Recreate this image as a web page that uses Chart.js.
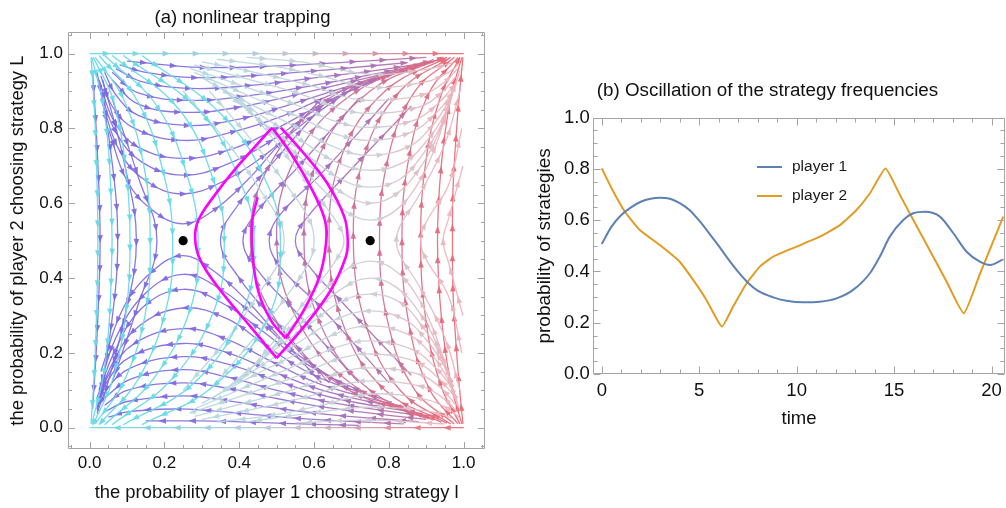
<!DOCTYPE html>
<html>
<head>
<meta charset="utf-8">
<script src="https://cdn.jsdelivr.net/npm/chart.js@4.4.1/dist/chart.umd.min.js"></script>
<style>
  html, body { margin: 0; padding: 0; background: #fff; overflow: hidden; width: 1006px; height: 508px; }
  #streams { position: absolute; left: 0; top: 0; }
  #series { position: absolute; left: 530px; top: 0; }
</style>
</head>
<body>
<canvas id="streams" width="500" height="508"></canvas>
<canvas id="series" width="484" height="508"></canvas>
<script>
const FONT = '"Liberation Sans", Arial, Helvetica, sans-serif';

// ---------- panel (a): stream plot, all points as [x, y] ----------
const unitTicks = [0, 0.2, 0.4, 0.6, 0.8, 1.0];
const saddles = [[0.25, 0.5], [0.75, 0.5]];

// cyan arcs, flowing top-left corner -> bottom-left corner
const cyanArcs = [
  [[0.004,0.99],[0.015,0.8],[0.022,0.5],[0.015,0.2],[0.004,0.01]],
  [[0.006,0.99],[0.04,0.84],[0.058,0.6],[0.058,0.4],[0.04,0.16],[0.006,0.01]],
  [[0.01,0.99],[0.065,0.87],[0.1,0.66],[0.108,0.5],[0.1,0.33],[0.062,0.13],[0.01,0.01]],
  [[0.015,0.99],[0.09,0.88],[0.145,0.7],[0.162,0.5],[0.148,0.3],[0.09,0.12],[0.015,0.01]],
  [[0.025,0.995],[0.13,0.87],[0.2,0.67],[0.222,0.5],[0.205,0.32],[0.13,0.13],[0.025,0.008]],
  [[0.04,0.995],[0.18,0.86],[0.265,0.66],[0.29,0.5],[0.27,0.32],[0.17,0.13],[0.04,0.008]],
  [[0.06,0.995],[0.24,0.85],[0.335,0.65],[0.36,0.5],[0.335,0.32],[0.22,0.13],[0.06,0.008]],
  [[0.09,0.995],[0.3,0.84],[0.41,0.64],[0.44,0.5],[0.41,0.31],[0.28,0.12],[0.09,0.008]],
  [[0.14,0.995],[0.36,0.83],[0.48,0.64],[0.51,0.5],[0.48,0.3],[0.33,0.11],[0.14,0.008]]
];

// purple family around the saddle at (0.25, 0.5)
const purpleUpper = [
  [[0.05,0.8],[0.1,0.66],[0.17,0.58],[0.25,0.545],[0.33,0.58],[0.42,0.66],[0.5,0.75],[0.62,0.88]],
  [[0.03,0.88],[0.08,0.74],[0.15,0.66],[0.25,0.625],[0.36,0.66],[0.47,0.73],[0.58,0.82],[0.72,0.92]],
  [[0.025,0.91],[0.07,0.79],[0.14,0.71],[0.25,0.675],[0.37,0.705],[0.49,0.77],[0.62,0.86],[0.78,0.94]],
  [[0.025,0.93],[0.065,0.82],[0.13,0.75],[0.25,0.72],[0.38,0.745],[0.5,0.8],[0.65,0.88],[0.82,0.95]],
  [[0.03,0.94],[0.06,0.86],[0.12,0.8],[0.25,0.768],[0.38,0.79],[0.52,0.835],[0.67,0.9],[0.86,0.96]],
  [[0.04,0.95],[0.07,0.89],[0.13,0.835],[0.26,0.808],[0.4,0.825],[0.54,0.865],[0.7,0.915],[0.88,0.965]],
  [[0.06,0.93],[0.13,0.865],[0.26,0.843],[0.4,0.857],[0.55,0.89],[0.72,0.93],[0.9,0.972]],
  [[0.06,0.95],[0.13,0.895],[0.27,0.875],[0.42,0.887],[0.58,0.912],[0.76,0.945],[0.92,0.978]],
  [[0.07,0.96],[0.14,0.925],[0.27,0.907],[0.43,0.915],[0.6,0.935],[0.8,0.96],[0.94,0.984]],
  [[0.08,0.97],[0.15,0.95],[0.28,0.936],[0.45,0.942],[0.65,0.958],[0.85,0.976]],
  [[0.1,0.98],[0.3,0.963],[0.5,0.967],[0.7,0.978],[0.9,0.99]]
];
const purpleRight = [
  [[0.64,0.12],[0.5,0.28],[0.4,0.4],[0.35,0.5],[0.4,0.6],[0.5,0.72],[0.64,0.88]],
  [[0.72,0.12],[0.56,0.3],[0.45,0.42],[0.41,0.5],[0.45,0.58],[0.56,0.7],[0.72,0.88]],
  [[0.8,0.12],[0.62,0.32],[0.51,0.43],[0.48,0.5],[0.51,0.57],[0.62,0.68],[0.8,0.88]],
  [[0.86,0.14],[0.68,0.33],[0.58,0.44],[0.55,0.5],[0.58,0.56],[0.68,0.67],[0.86,0.86]]
];
const purpleLower = [
  [[0.62,0.12],[0.5,0.25],[0.42,0.34],[0.33,0.42],[0.25,0.46],[0.17,0.42],[0.09,0.32],[0.03,0.15]],
  [[0.7,0.1],[0.55,0.2],[0.45,0.29],[0.35,0.37],[0.25,0.41],[0.15,0.36],[0.07,0.24],[0.025,0.1]],
  [[0.75,0.085],[0.58,0.17],[0.46,0.26],[0.36,0.33],[0.25,0.37],[0.14,0.32],[0.065,0.2],[0.02,0.08]],
  [[0.8,0.07],[0.6,0.14],[0.47,0.22],[0.37,0.29],[0.25,0.32],[0.13,0.27],[0.06,0.17],[0.02,0.065]],
  [[0.84,0.055],[0.62,0.115],[0.48,0.18],[0.37,0.235],[0.25,0.265],[0.12,0.225],[0.05,0.14],[0.02,0.05]],
  [[0.87,0.045],[0.64,0.095],[0.49,0.15],[0.37,0.2],[0.25,0.225],[0.11,0.19],[0.045,0.12],[0.02,0.045]],
  [[0.89,0.037],[0.65,0.08],[0.5,0.125],[0.37,0.17],[0.25,0.19],[0.11,0.16],[0.045,0.1],[0.02,0.038]],
  [[0.9,0.03],[0.66,0.065],[0.5,0.1],[0.37,0.135],[0.25,0.155],[0.11,0.13],[0.04,0.08]],
  [[0.9,0.022],[0.66,0.05],[0.5,0.078],[0.37,0.105],[0.25,0.12],[0.1,0.1],[0.04,0.06]],
  [[0.88,0.016],[0.64,0.035],[0.48,0.055],[0.35,0.075],[0.25,0.085],[0.1,0.07],[0.045,0.045]],
  [[0.84,0.01],[0.6,0.022],[0.45,0.034],[0.33,0.045],[0.22,0.05],[0.1,0.042],[0.05,0.028]],
  [[0.72,0.006],[0.5,0.012],[0.3,0.018],[0.15,0.018]]
];
const purpleLeft = [
  [[0.008,0.95],[0.02,0.75],[0.028,0.5],[0.02,0.25],[0.008,0.05]],
  [[0.02,0.95],[0.055,0.75],[0.075,0.5],[0.055,0.25],[0.02,0.05]],
  [[0.035,0.93],[0.09,0.72],[0.125,0.5],[0.09,0.28],[0.035,0.07]],
  [[0.06,0.88],[0.13,0.67],[0.18,0.5],[0.13,0.33],[0.06,0.12]]
];

// grey family around the saddle at (0.75, 0.5)
const greyUpper = [
  [[0.45,0.83],[0.53,0.74],[0.62,0.64],[0.69,0.575],[0.75,0.555],[0.81,0.575],[0.87,0.64],[0.92,0.74],[0.96,0.86]],
  [[0.4,0.87],[0.5,0.78],[0.6,0.69],[0.68,0.625],[0.75,0.6],[0.82,0.625],[0.88,0.69],[0.93,0.78],[0.97,0.89]],
  [[0.36,0.9],[0.47,0.81],[0.58,0.73],[0.67,0.665],[0.75,0.643],[0.83,0.665],[0.89,0.73],[0.94,0.81],[0.975,0.91]],
  [[0.33,0.92],[0.45,0.84],[0.57,0.765],[0.66,0.71],[0.75,0.688],[0.84,0.71],[0.9,0.765],[0.95,0.84],[0.98,0.925]],
  [[0.3,0.935],[0.43,0.865],[0.56,0.8],[0.66,0.748],[0.75,0.728],[0.85,0.75],[0.91,0.8],[0.955,0.865],[0.985,0.94]],
  [[0.28,0.95],[0.42,0.89],[0.56,0.83],[0.66,0.785],[0.75,0.768],[0.86,0.79],[0.92,0.835],[0.965,0.89],[0.99,0.955]],
  [[0.27,0.96],[0.42,0.91],[0.56,0.86],[0.66,0.818],[0.75,0.803],[0.87,0.823],[0.93,0.865],[0.975,0.915]],
  [[0.28,0.97],[0.43,0.93],[0.57,0.89],[0.67,0.853],[0.75,0.84],[0.88,0.857],[0.94,0.895],[0.98,0.94]],
  [[0.3,0.978],[0.45,0.948],[0.59,0.915],[0.68,0.885],[0.75,0.875],[0.89,0.89],[0.95,0.925],[0.985,0.96]],
  [[0.34,0.985],[0.5,0.965],[0.62,0.94],[0.75,0.91],[0.9,0.925],[0.96,0.95],[0.99,0.975]],
  [[0.42,0.99],[0.57,0.977],[0.75,0.945],[0.9,0.958],[0.97,0.975]]
];
const greyLeft = [
  [[0.4,0.88],[0.5,0.76],[0.6,0.63],[0.66,0.55],[0.68,0.5],[0.66,0.45],[0.6,0.37],[0.5,0.24],[0.4,0.12]],
  [[0.32,0.9],[0.44,0.76],[0.54,0.63],[0.59,0.55],[0.6,0.5],[0.59,0.45],[0.54,0.37],[0.44,0.24],[0.32,0.1]],
  [[0.25,0.9],[0.37,0.76],[0.46,0.63],[0.51,0.55],[0.52,0.5],[0.51,0.45],[0.46,0.37],[0.37,0.24],[0.25,0.1]]
];
const greyLower = [
  [[0.96,0.14],[0.92,0.26],[0.87,0.36],[0.81,0.425],[0.75,0.445],[0.69,0.425],[0.62,0.36],[0.53,0.26],[0.45,0.17]],
  [[0.97,0.11],[0.93,0.22],[0.88,0.31],[0.82,0.375],[0.75,0.4],[0.68,0.375],[0.6,0.31],[0.5,0.22],[0.4,0.13]],
  [[0.975,0.09],[0.94,0.19],[0.89,0.27],[0.83,0.335],[0.75,0.357],[0.67,0.335],[0.58,0.27],[0.47,0.19],[0.36,0.1]],
  [[0.98,0.075],[0.95,0.16],[0.9,0.235],[0.84,0.29],[0.75,0.312],[0.66,0.29],[0.57,0.235],[0.45,0.16],[0.33,0.08]],
  [[0.985,0.06],[0.955,0.135],[0.91,0.2],[0.85,0.25],[0.75,0.272],[0.66,0.252],[0.56,0.2],[0.43,0.135],[0.3,0.065]],
  [[0.99,0.045],[0.965,0.11],[0.92,0.165],[0.86,0.21],[0.75,0.232],[0.66,0.215],[0.56,0.17],[0.42,0.11],[0.28,0.05]],
  [[0.975,0.085],[0.93,0.135],[0.87,0.177],[0.75,0.197],[0.66,0.182],[0.56,0.14],[0.42,0.09],[0.27,0.04]],
  [[0.98,0.06],[0.94,0.105],[0.88,0.143],[0.75,0.16],[0.67,0.147],[0.57,0.11],[0.43,0.07],[0.28,0.03]],
  [[0.985,0.04],[0.95,0.075],[0.89,0.11],[0.75,0.125],[0.68,0.115],[0.59,0.085],[0.45,0.052],[0.3,0.022]],
  [[0.99,0.025],[0.96,0.05],[0.9,0.075],[0.75,0.09],[0.62,0.06],[0.5,0.035],[0.34,0.015]],
  [[0.97,0.025],[0.9,0.045],[0.75,0.055],[0.6,0.04],[0.42,0.015]],
  [[0.95,0.01],[0.75,0.02],[0.55,0.013]]
];
const greyRight = [
  [[0.99,0.1],[0.95,0.24],[0.88,0.38],[0.83,0.46],[0.82,0.5],[0.83,0.54],[0.88,0.62],[0.95,0.76],[0.99,0.9]],
  [[0.995,0.2],[0.96,0.35],[0.9,0.45],[0.885,0.5],[0.9,0.55],[0.96,0.65],[0.995,0.8]],
  [[0.998,0.3],[0.96,0.44],[0.945,0.5],[0.96,0.56],[0.998,0.7]]
];

// red / mauve arcs, flowing bottom-right corner -> top-right corner
const redArcs = [
  [[0.998,0.01],[0.985,0.15],[0.972,0.35],[0.97,0.5],[0.972,0.65],[0.985,0.85],[0.998,0.99]],
  [[0.995,0.01],[0.965,0.12],[0.94,0.3],[0.93,0.5],[0.94,0.7],[0.965,0.88],[0.995,0.99]],
  [[0.99,0.01],[0.94,0.11],[0.9,0.28],[0.885,0.5],[0.9,0.72],[0.94,0.89],[0.99,0.99]],
  [[0.985,0.01],[0.91,0.1],[0.855,0.27],[0.835,0.5],[0.855,0.73],[0.91,0.9],[0.985,0.99]],
  [[0.975,0.01],[0.87,0.1],[0.8,0.27],[0.775,0.5],[0.8,0.73],[0.87,0.9],[0.975,0.99]],
  [[0.965,0.01],[0.83,0.1],[0.74,0.27],[0.705,0.5],[0.735,0.73],[0.83,0.9],[0.965,0.99]],
  [[0.955,0.012],[0.79,0.1],[0.68,0.27],[0.64,0.5],[0.675,0.73],[0.79,0.9],[0.955,0.99]],
  [[0.94,0.015],[0.75,0.1],[0.62,0.27],[0.573,0.5],[0.615,0.73],[0.75,0.9],[0.94,0.988]],
  [[0.92,0.02],[0.71,0.11],[0.56,0.28],[0.5,0.5],[0.55,0.72],[0.7,0.89],[0.92,0.985]],
  [[0.9,0.025],[0.66,0.12],[0.49,0.3],[0.43,0.5],[0.48,0.7],[0.64,0.88],[0.9,0.98]]
];

// top edge flows right, bottom edge flows left
const edgeLines = [
  [[0.0,1.0],[0.5,1.0],[1.0,1.0]],
  [[1.0,0.0],[0.5,0.0],[0.0,0.0]]
];

// magenta trajectory, cut at its sharp corners
const trappingLegs = [
  [[0.449,0.616],[0.435,0.555],[0.435,0.475],[0.45,0.368],[0.484,0.288],[0.524,0.239]],
  [[0.524,0.239],[0.573,0.315],[0.614,0.403],[0.632,0.493],[0.629,0.555],[0.591,0.643],[0.538,0.733],[0.488,0.802]],
  [[0.488,0.802],[0.394,0.697],[0.331,0.617],[0.291,0.555],[0.282,0.506],[0.296,0.448],[0.349,0.368],[0.43,0.27],[0.5,0.186]],
  [[0.5,0.186],[0.573,0.27],[0.645,0.368],[0.685,0.457],[0.69,0.501],[0.681,0.563],[0.636,0.652],[0.573,0.733],[0.511,0.802]]
];

// ---------- panel (b): time series ----------
const timeTicks = [0, 5, 10, 15, 20];
const probTicks = [0, 0.2, 0.4, 0.6, 0.8, 1.0];
const p1Time  = [0, 0.5, 1, 1.5, 2, 2.5, 3, 3.5, 4, 4.5, 5, 5.5, 6, 6.5, 7, 7.5, 8, 8.8, 9.48, 10.33, 11.19, 12.05, 12.9, 13.76, 14.27, 14.78, 15.47, 15.98, 16.58, 17.35, 18.04, 18.72, 19.4, 19.92, 20.6];
const p1Value = [0.507, 0.575, 0.62, 0.65, 0.672, 0.684, 0.688, 0.684, 0.667, 0.64, 0.598, 0.55, 0.5, 0.447, 0.398, 0.356, 0.325, 0.299, 0.286, 0.28, 0.282, 0.295, 0.328, 0.393, 0.458, 0.536, 0.601, 0.627, 0.633, 0.614, 0.549, 0.477, 0.438, 0.425, 0.447];
const p2Time  = [0, 0.5, 1.19, 1.95, 2.98, 4.0, 4.69, 5.37, 6.16, 6.74, 7.43, 8.11, 8.8, 10.0, 11.19, 12.22, 13.07, 13.76, 14.56, 15.3, 15.98, 16.84, 17.69, 18.58, 19.4, 20.6];
const p2Value = [0.802, 0.725, 0.633, 0.562, 0.503, 0.438, 0.367, 0.289, 0.185, 0.263, 0.354, 0.419, 0.458, 0.497, 0.536, 0.581, 0.64, 0.705, 0.802, 0.698, 0.602, 0.481, 0.361, 0.237, 0.39, 0.614];

// ---------- colours ----------
const CYAN = 'rgba(104, 218, 232, 0.95)';
const PURPLE_STOPS = [[0, 'rgba(122,104,228,0.92)'], [0.45, 'rgba(138,108,222,0.92)'], [0.75, 'rgba(172,112,180,0.92)'], [1, 'rgba(200,108,150,0.92)']];
const GREY_STOPS   = [[0, 'rgba(168,226,230,0.95)'], [0.45, 'rgba(188,214,222,0.95)'], [0.75, 'rgba(206,206,214,0.95)'], [1, 'rgba(242,176,186,0.95)']];
const RED_STOPS    = [[0, 'rgba(150,110,205,0.92)'], [0.45, 'rgba(172,112,182,0.92)'], [0.7, 'rgba(205,112,150,0.92)'], [1, 'rgba(236,104,116,0.92)']];
const EDGE_STOPS   = [[0, 'rgba(104,218,232,0.95)'], [0.5, 'rgba(190,200,215,0.95)'], [1, 'rgba(236,104,116,0.95)']];

function sweep(stops) {
  return ({ chart }) => {
    const xs = chart.scales.x;
    if (!chart.chartArea || !xs) return stops[0][1];
    const g = chart.ctx.createLinearGradient(xs.getPixelForValue(0), 0, xs.getPixelForValue(1), 0);
    stops.forEach(([at, c]) => g.addColorStop(at, c));
    return g;
  };
}

const toXY = pts => pts.map(([x, y]) => ({ x, y }));
const streams = (lines, color) => lines.map(pts => ({
  data: toXY(pts), showLine: true, borderColor: color, borderWidth: 1.3,
  pointRadius: 0, tension: 0.4, order: 5, arrowGap: 30
}));

// arrowheads along each streamline, following the drawn bezier
const arrowPlugin = {
  id: 'streamArrows',
  afterDatasetDraw(chart, args) {
    const ds = chart.data.datasets[args.index];
    if (!ds.arrowGap) return;
    const pts = args.meta.data;
    if (pts.length < 2) return;
    const path = [];
    for (let k = 0; k < pts.length - 1; k++) {
      const p = pts[k], q = pts[k + 1];
      const c1x = p.cp2x ?? p.x, c1y = p.cp2y ?? p.y, c2x = q.cp1x ?? q.x, c2y = q.cp1y ?? q.y;
      for (let s = 0; s < 16; s++) {
        const t = s / 16, u = 1 - t;
        path.push([
          u * u * u * p.x + 3 * u * u * t * c1x + 3 * u * t * t * c2x + t * t * t * q.x,
          u * u * u * p.y + 3 * u * u * t * c1y + 3 * u * t * t * c2y + t * t * t * q.y
        ]);
      }
    }
    const last = pts[pts.length - 1];
    path.push([last.x, last.y]);

    const ctx = chart.ctx, a = chart.chartArea;
    ctx.save();
    ctx.beginPath();
    ctx.rect(a.left, a.top, a.right - a.left, a.bottom - a.top);
    ctx.clip();
    ctx.fillStyle = args.meta.dataset.options.borderColor;
    const gap = ds.arrowGap;
    let next = gap * 0.55, acc = 0;
    for (let k = 1; k < path.length; k++) {
      const dx = path[k][0] - path[k - 1][0], dy = path[k][1] - path[k - 1][1];
      const len = Math.hypot(dx, dy);
      if (len === 0) continue;
      while (acc + len >= next) {
        const f = (next - acc) / len;
        const x = path[k - 1][0] + dx * f, y = path[k - 1][1] + dy * f;
        const ux = dx / len, uy = dy / len;
        ctx.beginPath();
        ctx.moveTo(x + ux * 4, y + uy * 4);
        ctx.lineTo(x - ux * 3.5 - uy * 2.8, y - uy * 3.5 + ux * 2.8);
        ctx.lineTo(x - ux * 3.5 + uy * 2.8, y - uy * 3.5 - ux * 2.8);
        ctx.closePath();
        ctx.fill();
        next += gap;
      }
      acc += len;
    }
    ctx.restore();
  }
};

// Mathematica-like frame with inward ticks on all four sides
const framePlugin = {
  id: 'mmaFrame',
  afterDatasetsDraw(chart, args, o) {
    const { ctx, chartArea: a } = chart;
    const xs = chart.scales.x, ys = chart.scales.y;
    const L = Math.round(a.left) + 0.5, R = Math.round(a.right) - 0.5;
    const T = Math.round(a.top) + 0.5, B = Math.round(a.bottom) - 0.5;
    ctx.save();
    ctx.strokeStyle = o.color;
    ctx.lineWidth = 1;
    ctx.beginPath();
    ctx.rect(L, T, R - L, B - T);
    const tx = (v, len) => {
      const px = Math.round(xs.getPixelForValue(v)) + 0.5;
      ctx.moveTo(px, B); ctx.lineTo(px, B - len);
      ctx.moveTo(px, T); ctx.lineTo(px, T + len);
    };
    const ty = (v, len) => {
      const py = Math.round(ys.getPixelForValue(v)) + 0.5;
      ctx.moveTo(L, py); ctx.lineTo(L + len, py);
      ctx.moveTo(R, py); ctx.lineTo(R - len, py);
    };
    const isMajor = (list, v) => list.some(m => Math.abs(m - v) < 1e-6);
    o.xMajor.forEach(v => tx(v, o.major));
    o.yMajor.forEach(v => ty(v, o.major));
    for (let i = Math.ceil(xs.min / o.xMinor - 1e-6); i * o.xMinor <= xs.max + 1e-9; i++) {
      const v = i * o.xMinor;
      if (!isMajor(o.xMajor, v)) tx(v, o.minor);
    }
    for (let i = Math.ceil(ys.min / o.yMinor - 1e-6); i * o.yMinor <= ys.max + 1e-9; i++) {
      const v = i * o.yMinor;
      if (!isMajor(o.yMajor, v)) ty(v, o.minor);
    }
    ctx.stroke();
    ctx.restore();
  }
};

// legend drawn inside the plot of panel (b)
const insetLegend = {
  id: 'insetLegend',
  afterDraw(chart, args, o) {
    const ctx = chart.ctx;
    ctx.save();
    ctx.font = `${o.size}px ${FONT}`;
    ctx.textBaseline = 'middle';
    chart.data.datasets.forEach((ds, i) => {
      const y = o.y + i * o.rowGap;
      ctx.strokeStyle = ds.borderColor;
      ctx.lineWidth = ds.borderWidth;
      ctx.beginPath();
      ctx.moveTo(o.x, y);
      ctx.lineTo(o.x + o.sample, y);
      ctx.stroke();
      ctx.fillStyle = '#1a1a1a';
      ctx.fillText(ds.label, o.x + o.sample + o.gap, y);
    });
    ctx.restore();
  }
};

const tickFont = size => ({ family: FONT, size });

// ---------- chart (a) ----------
new Chart(document.getElementById('streams'), {
  type: 'scatter',
  data: {
    datasets: [
      { data: toXY(saddles), pointRadius: 4.6, pointBackgroundColor: '#000', pointBorderWidth: 0, showLine: false, order: 0 },
      ...trappingLegs.map(leg => ({ data: toXY(leg), showLine: true, borderColor: '#ff00ff', borderWidth: 2.6, pointRadius: 0, tension: 0.4, order: 1 })),
      ...streams(edgeLines, sweep(EDGE_STOPS)),
      ...streams(cyanArcs, CYAN),
      ...streams(greyUpper, sweep(GREY_STOPS)),
      ...streams(greyLeft, sweep(GREY_STOPS)),
      ...streams(greyLower, sweep(GREY_STOPS)),
      ...streams(greyRight, sweep(GREY_STOPS)),
      ...streams(redArcs, sweep(RED_STOPS)),
      ...streams(purpleUpper, sweep(PURPLE_STOPS)),
      ...streams(purpleRight, sweep(PURPLE_STOPS)),
      ...streams(purpleLower, sweep(PURPLE_STOPS)),
      ...streams(purpleLeft, sweep(PURPLE_STOPS))
    ]
  },
  options: {
    responsive: false,
    animation: false,
    events: [],
    layout: { padding: { left: 0, right: 15, top: 0, bottom: 0 } },
    plugins: {
      legend: { display: false },
      tooltip: { enabled: false },
      title: {
        display: true, text: '(a) nonlinear trapping', color: '#111',
        font: { family: FONT, size: 18.5, weight: 'normal' }, padding: { top: 6.9, bottom: 3.2 }
      },
      mmaFrame: { color: '#a4a4a4', xMajor: unitTicks, yMajor: unitTicks, xMinor: 0.05, yMinor: 0.05, major: 6.5, minor: 3.5 }
    },
    scales: {
      x: {
        type: 'linear', min: -0.057, max: 1.057,
        grid: { display: false, drawTicks: false }, border: { display: false },
        afterBuildTicks: s => { s.ticks = unitTicks.map(value => ({ value })); },
        afterFit: s => { s.height = 59; },
        ticks: { font: tickFont(17), color: '#111', padding: 4.5, maxRotation: 0, autoSkip: false, callback: v => Number(v).toFixed(1) },
        title: { display: true, text: 'the probability of player 1 choosing strategy l', color: '#111', font: { family: FONT, size: 18.4 }, padding: { top: 0, bottom: 4 } }
      },
      y: {
        type: 'linear', min: -0.057, max: 1.057,
        grid: { display: false, drawTicks: false }, border: { display: false },
        afterBuildTicks: s => { s.ticks = unitTicks.map(value => ({ value })); },
        afterFit: s => { s.width = 68.3; },
        ticks: { font: tickFont(17), color: '#111', padding: 5.3, autoSkip: false, callback: v => Number(v).toFixed(1) },
        title: { display: true, text: 'the probability of player 2 choosing strategy L', color: '#111', font: { family: FONT, size: 18.4 }, padding: { top: 6.5, bottom: 0 } }
      }
    }
  },
  plugins: [arrowPlugin, framePlugin]
});

// ---------- chart (b) ----------
new Chart(document.getElementById('series'), {
  type: 'scatter',
  data: {
    datasets: [
      { label: 'player 1', data: p1Time.map((x, i) => ({ x, y: p1Value[i] })), showLine: true, borderColor: '#5e81b5', borderWidth: 2, pointRadius: 0, cubicInterpolationMode: 'monotone' },
      { label: 'player 2', data: p2Time.map((x, i) => ({ x, y: p2Value[i] })), showLine: true, borderColor: '#e19c24', borderWidth: 2, pointRadius: 0, tension: 0.15 }
    ]
  },
  options: {
    responsive: false,
    animation: false,
    events: [],
    layout: { padding: { left: 0, right: 9, top: 0, bottom: 0 } },
    plugins: {
      legend: { display: false },
      tooltip: { enabled: false },
      title: {
        display: true, text: '(b) Oscillation of the strategy frequencies', color: '#111',
        font: { family: FONT, size: 18.8, weight: 'normal' }, padding: { top: 79.7, bottom: 15.4 }
      },
      mmaFrame: { color: '#a4a4a4', xMajor: timeTicks, yMajor: probTicks, xMinor: 1, yMinor: 0.05, major: 7, minor: 4 },
      insetLegend: { x: 227, y: 167, rowGap: 29, sample: 25, gap: 10, size: 15.5 }
    },
    scales: {
      x: {
        type: 'linear', min: -0.45, max: 20.69,
        grid: { display: false, drawTicks: false }, border: { display: false },
        afterBuildTicks: s => { s.ticks = timeTicks.map(value => ({ value })); },
        afterFit: s => { s.height = 134; },
        ticks: { font: tickFont(18.5), color: '#111', padding: 6, maxRotation: 0, autoSkip: false, callback: v => String(v) },
        title: { display: true, text: 'time', color: '#111', font: { family: FONT, size: 18.5 }, padding: { top: 0, bottom: 78 } }
      },
      y: {
        type: 'linear', min: 0, max: 1,
        grid: { display: false, drawTicks: false }, border: { display: false },
        afterBuildTicks: s => { s.ticks = probTicks.map(value => ({ value })); },
        afterFit: s => { s.width = 63; },
        ticks: { font: tickFont(18.5), color: '#111', padding: 3.3, autoSkip: false, callback: v => Number(v).toFixed(1) },
        title: { display: true, text: 'probability of strategies', color: '#111', font: { family: FONT, size: 19 }, padding: { top: 3.6, bottom: 0 } }
      }
    }
  },
  plugins: [framePlugin, insetLegend]
});
</script>
</body>
</html>
